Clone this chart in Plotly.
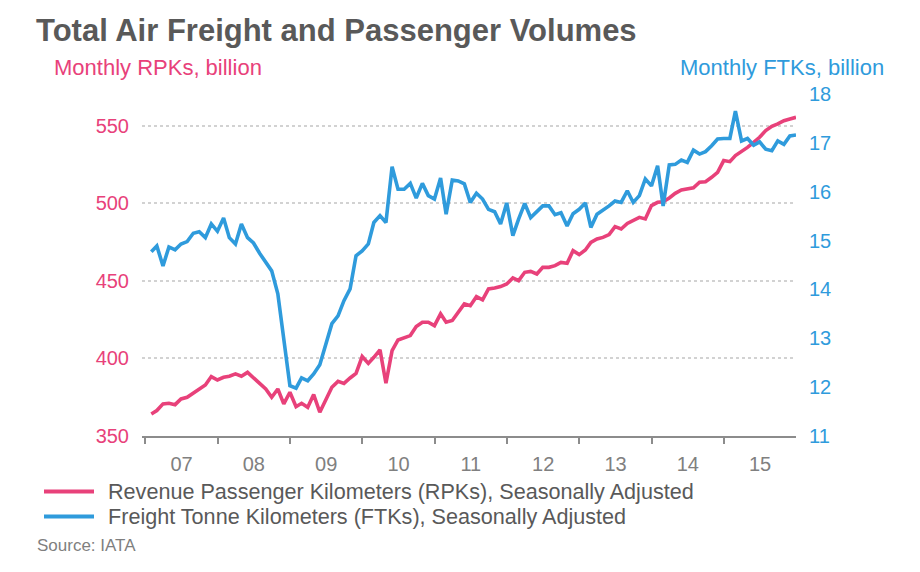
import pandas as pd
import plotly.graph_objects as go

# Monthly data, Jan 2007 - Dec 2015
months = pd.date_range("2007-01-31", periods=108, freq="ME")

rpk = [
    364.2, 366.4, 370.7, 371.1, 370.2, 373.9, 374.9, 377.5, 379.9, 382.9, 388.3, 386.1,
    387.8, 388.5, 390.0, 388.5, 391.0, 387.4, 384.3, 380.3, 375.0, 380.3, 370.7, 378.2,
    368.9, 371.1, 368.5, 376.7, 365.3, 373.3, 381.4, 385.2, 383.9, 387.4, 390.4, 401.2,
    396.8, 400.7, 405.5, 384.0, 405.0, 411.9, 413.2, 414.7, 420.5, 423.3, 423.3, 421.1,
    428.7, 423.3, 424.4, 429.7, 435.1, 434.0, 439.8, 437.7, 444.8, 445.4, 446.3, 448.0,
    451.9, 450.1, 455.5, 456.1, 454.4, 458.7, 458.7, 459.8, 461.9, 461.3, 469.4, 466.9,
    469.9, 474.8, 477.0, 478.0, 479.8, 484.9, 483.4, 487.0, 488.8, 490.9, 489.9, 498.5,
    500.6, 501.0, 503.4, 506.4, 508.6, 509.2, 509.9, 513.5, 513.9, 516.7, 519.9, 527.5,
    526.8, 530.7, 533.2, 536.0, 539.2, 542.5, 546.8, 549.6, 551.1, 553.2, 554.3, 555.4,
]

ftk = [
    14.77, 14.89, 14.48, 14.87, 14.81, 14.93, 14.98, 15.15, 15.18, 15.06, 15.34, 15.19,
    15.46, 15.06, 14.93, 15.34, 15.06, 14.95, 14.74, 14.55, 14.38, 13.91, 12.95, 12.03,
    11.98, 12.19, 12.13, 12.27, 12.46, 12.88, 13.30, 13.46, 13.77, 14.01, 14.69, 14.79,
    14.93, 15.37, 15.51, 15.37, 16.51, 16.05, 16.05, 16.17, 15.87, 16.17, 15.92, 15.85,
    16.28, 15.54, 16.24, 16.22, 16.16, 15.78, 15.97, 15.85, 15.64, 15.59, 15.34, 15.77,
    15.10, 15.44, 15.76, 15.47, 15.60, 15.71, 15.71, 15.53, 15.57, 15.30, 15.55, 15.64,
    15.77, 15.27, 15.54, 15.62, 15.71, 15.81, 15.78, 16.02, 15.78, 15.92, 16.26, 16.12,
    16.53, 15.71, 16.55, 16.56, 16.65, 16.60, 16.85, 16.77, 16.82, 16.94, 17.08, 17.09,
    17.09, 17.65, 17.04, 17.09, 16.95, 17.02, 16.87, 16.84, 17.04, 16.97, 17.14, 17.16,
]

rpk_name = "Revenue Passenger Kilometers (RPKs), Seasonally Adjusted"
ftk_name = "Freight Tonne Kilometers (FTKs), Seasonally Adjusted"

PINK = "#E8417A"
BLUE = "#2F9BDC"
GRAY = "#595959"
FONT = "Liberation Sans, Arial, sans-serif"

W, H = 920, 572
# page offset of the rendered figure (body margin)
OX, OY = 9, 8
L, R, T, B = 143 - OX, 920 - (797 - OX), 94 - OY, 572 - (436.5 - OY)

fig = go.Figure()
fig.add_trace(go.Scatter(x=months, y=rpk, name=rpk_name, mode="lines",
                         line=dict(color=PINK, width=3.6), yaxis="y", showlegend=False))
fig.add_trace(go.Scatter(x=months, y=ftk, name=ftk_name, mode="lines",
                         line=dict(color=BLUE, width=3.6), yaxis="y2", showlegend=False))

def px(xp):
    return (xp - OX - L) / (W - L - R)

def py(yp):
    return (H - B - (yp - OY)) / (H - T - B)

annotations = [
    dict(text="Monthly RPKs, billion", x=px(53), y=py(67), xanchor="left", yanchor="middle",
         font=dict(size=22, color=PINK, family=FONT)),
    dict(text="Monthly FTKs, billion", x=px(887), y=py(67), xanchor="right", yanchor="middle",
         font=dict(size=22, color=BLUE, family=FONT)),
    dict(text=rpk_name, x=px(107), y=py(492), xanchor="left", yanchor="middle",
         font=dict(size=21.6, color=GRAY, family=FONT)),
    dict(text=ftk_name, x=px(107), y=py(517), xanchor="left", yanchor="middle",
         font=dict(size=21.6, color=GRAY, family=FONT)),
    dict(text="Source: IATA", x=px(36), y=py(546), xanchor="left", yanchor="middle",
         font=dict(size=17, color="#7f7f7f", family=FONT)),
]
for a in annotations:
    a.update(xref="paper", yref="paper", showarrow=False)

shapes = [
    dict(type="line", xref="paper", yref="paper", x0=px(45), x1=px(95), y0=py(492), y1=py(492),
         line=dict(color=PINK, width=4)),
    dict(type="line", xref="paper", yref="paper", x0=px(45), x1=px(95), y0=py(517), y1=py(517),
         line=dict(color=BLUE, width=4)),
]

fig.update_layout(
    width=W, height=H,
    margin=dict(l=L, r=R, t=T, b=B),
    paper_bgcolor="white", plot_bgcolor="white",
    font=dict(family=FONT),
    title=dict(text="<b>Total Air Freight and Passenger Volumes</b>", x=(37 - OX) / W, xanchor="left",
               y=1 - (30 - OY) / H, yanchor="middle", xref="container", yref="container",
               font=dict(size=31, color=GRAY, family=FONT)),
    xaxis=dict(type="date", range=["2006-12-15", "2015-12-31"], tick0="2007-01-01", dtick="M12",
               ticklabelmode="period", tickformat="%y", ticks="outside", ticklen=6, tickwidth=1.5,
               tickcolor="#8c8c8c", showline=True, linecolor="#8c8c8c", linewidth=1.5,
               showgrid=False, zeroline=False, ticklabelstandoff=3,
               tickfont=dict(size=20, color="#808080")),
    yaxis=dict(range=[350, 570.4], tick0=350, dtick=50, showgrid=True, griddash="dot",
               gridcolor="#d2d2d2", gridwidth=1.5, zeroline=False, showline=False, ticks="",
               ticklabelstandoff=12, tickfont=dict(size=20, color=PINK)),
    yaxis2=dict(range=[11, 18], tick0=11, dtick=1, overlaying="y", side="right", showgrid=False,
                zeroline=False, showline=False, ticks="", ticklabelstandoff=12,
                tickfont=dict(size=20, color=BLUE)),
    annotations=annotations,
    shapes=shapes,
)

fig.write_html("out.html")
